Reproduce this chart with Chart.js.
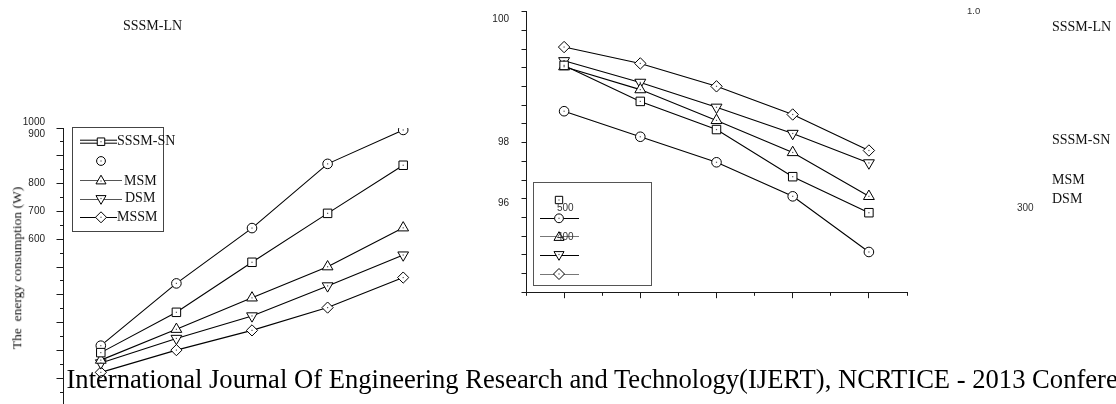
<!DOCTYPE html>
<html>
<head>
<meta charset="utf-8">
<script src="https://cdn.jsdelivr.net/npm/chart.js@4/dist/chart.umd.min.js"></script>
<style>
  html, body { margin: 0; padding: 0; background: #fff; width: 1116px; height: 404px; overflow: hidden; }
  #wrap { position: relative; width: 1116px; height: 404px; overflow: hidden; }
  canvas { position: absolute; left: 0; top: 0; }
  .t { position: absolute; white-space: pre; line-height: 1; color: #111; }
  .serif { font-family: "Liberation Serif", "Times New Roman", serif; }
  .sans { font-family: "Liberation Sans", Arial, sans-serif; color: #333; }
</style>
</head>
<body>
<div id="wrap">
  <canvas id="energy" width="1116" height="450"></canvas>
  <canvas id="ratio" width="1116" height="404"></canvas>

  <div class="t serif" style="left:123px;top:18.9px;font-size:14px">SSSM-LN</div>
  <div class="t sans" style="left:967px;top:6.3px;font-size:9.5px">1.0</div>
  <div class="t serif" style="left:1052px;top:19.6px;font-size:14px">SSSM-LN</div>
  <div class="t serif" style="left:1052px;top:132.9px;font-size:14px">SSSM-SN</div>
  <div class="t serif" style="left:1052px;top:172.9px;font-size:14px">MSM</div>
  <div class="t serif" style="left:1052px;top:191.9px;font-size:14px">DSM</div>
  <div class="t sans" style="left:1017px;top:203.4px;font-size:10px">300</div>
  <div class="t sans" style="left:557px;top:203.4px;font-size:10px">500</div>
  <div class="t sans" style="left:557px;top:232.1px;font-size:10px">400</div>
  <div class="t serif" style="left:16.5px;top:268px;font-size:13.5px;transform:translate(-50%,-50%) rotate(-90deg)">The  energy consumption (W)</div>
  <div class="t serif" style="left:66.5px;top:365.7px;font-size:26.6px;color:#000">International Journal Of Engineering Research and Technology(IJERT), NCRTICE - 2013 Conference Proceedings</div>
</div>

<script>
// x positions shared by both panels
const steps = [1, 2, 3, 4, 5];
const seriesNames = ['SSSM-SN', 'SSSM-LN', 'MSM', 'DSM', 'MSSM'];

// left panel: energy consumption (W)
const energySSSMSN = [192, 337, 517, 693, 866];
const energySSSMLN = [217, 441, 640, 871, 993];
const energyMSM    = [165, 276, 389, 501, 641];
const energyDSM    = [155, 243, 324, 432, 543];
const energyMSSM   = [121, 201, 272, 354, 462];
const energyLabelValues = [600, 700, 800, 1000];
const energyLabelText   = ['600', '700', '800', ['1000', '900']];

// right panel
const ratioSSSMSN = [99.18, 98.63, 98.20, 97.48, 96.93];
const ratioSSSMLN = [98.48, 98.09, 97.70, 97.18, 96.33];
const ratioMSM    = [99.16, 98.81, 98.34, 97.85, 97.18];
const ratioDSM    = [99.25, 98.92, 98.54, 98.14, 97.69];
const ratioMSSM   = [99.46, 99.21, 98.86, 98.43, 97.88];
const ratioLabelValues = [97.142857, 98, 100];
const ratioLabelText   = [['', '96'], '98', ['', '100']];
const ratioLabelLead   = [0.9, 1.2, 1.6];   // line spacing of each label

// right axis: 16 tick marks, 2/7 apart, top at 100
const ratioStep = 2 / 7;
const ratioMax = 100;
const ratioMin = ratioMax - 15 * ratioStep;

const INK = '#000';
const FAMILY = '"Liberation Sans", Arial, sans-serif';
const tickFont = { family: FAMILY, size: 10 };

function align(p) { return Math.round(p - 0.5) + 0.5; }

function mark(ctx, style, rotation, r, x, y) {
  ctx.save();
  ctx.fillStyle = '#fff';
  ctx.strokeStyle = INK;
  ctx.lineWidth = 1;
  Chart.helpers.drawPoint(ctx, { pointStyle: style, rotation: rotation, radius: r, borderWidth: 1 }, x, y);
  ctx.fillStyle = '#555';
  ctx.fillRect(x - 0.6, y - 0.6, 1.2, 1.2);
  ctx.restore();
}

// small dot in the middle of every marker
const centerDots = {
  id: 'centerDots',
  afterDatasetsDraw(chart) {
    const ctx = chart.ctx;
    ctx.save();
    ctx.fillStyle = '#555';
    chart.data.datasets.forEach((ds, i) => {
      chart.getDatasetMeta(i).data.forEach(pt => ctx.fillRect(pt.x - 0.6, pt.y - 0.6, 1.2, 1.2));
    });
    ctx.restore();
  }
};

// major / minor tick marks along the axes
function axisMarks(list) {
  return {
    id: 'axisMarks',
    afterDraw(chart) {
      const ctx = chart.ctx;
      ctx.save();
      ctx.strokeStyle = '#1a1a1a';
      ctx.lineWidth = 1;
      list.forEach(a => {
        const sc = chart.scales[a.id];
        for (let i = 0; i < a.count; i++) {
          const v = a.from + i * a.step;
          const len = a.len(i);
          const p = align(sc.getPixelForValue(v));
          ctx.beginPath();
          if (sc.isHorizontal()) {
            const y0 = align(sc.top);
            ctx.moveTo(p, y0); ctx.lineTo(p, y0 + len);
          } else {
            const x0 = align(sc.right);
            ctx.moveTo(x0, p); ctx.lineTo(x0 - len, p);
          }
          ctx.stroke();
        }
      });
      ctx.restore();
    }
  };
}

// boxed key
function legendBox(cfg) {
  return {
    id: 'legendBox',
    afterDraw(chart) {
      const ctx = chart.ctx;
      ctx.save();
      ctx.lineWidth = 1;
      ctx.strokeStyle = cfg.boxColor;
      const b = cfg.box;
      ctx.strokeRect(b[0], b[1], b[2] - b[0], b[3] - b[1]);
      cfg.entries.forEach(e => {
        (e.lines || []).forEach(l => {
          ctx.strokeStyle = l[3] || INK;
          ctx.beginPath(); ctx.moveTo(l[0], l[2]); ctx.lineTo(l[1], l[2]); ctx.stroke();
        });
        mark(ctx, e.style, e.rot || 0, e.r, e.x, e.y);
        if (e.text) {
          ctx.fillStyle = '#111';
          ctx.font = cfg.font;
          ctx.textBaseline = 'middle';
          ctx.textAlign = 'left';
          ctx.fillText(e.text, e.tx, e.y);
        }
      });
      ctx.restore();
    }
  };
}

function series(label, values, style, r, rot) {
  return {
    label: label,
    data: steps.map((s, i) => ({ x: s, y: values[i] })),
    borderColor: INK,
    borderWidth: 1.1,
    backgroundColor: '#fff',
    pointBackgroundColor: '#fff',
    pointBorderColor: INK,
    pointBorderWidth: 1,
    pointStyle: style,
    pointRotation: rot || 0,
    pointRadius: r,
    tension: 0,
    fill: false
  };
}

// keep the plot box exactly where the axes are placed
function noScalePadding(s) {
  s.paddingTop = 0; s.paddingBottom = 0; s.paddingLeft = 0; s.paddingRight = 0;
}

const common = {
  responsive: false,
  animation: false,
  devicePixelRatio: 1,
  plugins: { legend: { display: false }, tooltip: { enabled: false } }
};

// left panel
new Chart(document.getElementById('energy'), {
  type: 'line',
  data: {
    datasets: [
      series(seriesNames[0], energySSSMSN, 'rect', 6),
      series(seriesNames[1], energySSSMLN, 'circle', 4.8),
      series(seriesNames[2], energyMSM, 'triangle', 6.2),
      series(seriesNames[3], energyDSM, 'triangle', 6.2, 180),
      series(seriesNames[4], energyMSSM, 'rectRot', 5.6)
    ]
  },
  options: Object.assign({}, common, {
    layout: { padding: { left: 0, top: 128, right: 675, bottom: 0 } },
    scales: {
      x: {
        type: 'linear', min: 0.5, max: 5.5,
        grid: { display: false },
        ticks: { display: false },
        border: { color: '#1a1a1a', width: 1 },
        afterFit(s) { s.height = 44; noScalePadding(s); }
      },
      y: {
        type: 'linear', min: 0, max: 1000,
        grid: { display: false },
        border: { color: '#1a1a1a', width: 1 },
        afterBuildTicks(s) { s.ticks = energyLabelValues.map(v => ({ value: v })); },
        ticks: {
          autoSkip: false, padding: 10, color: '#222', font: tickFont,
          callback(v, i) { return energyLabelText[i]; }
        },
        afterFit(s) { s.width = 63; noScalePadding(s); }
      }
    }
  }),
  plugins: [
    centerDots,
    axisMarks([{ id: 'y', from: 0, count: 21, step: 50, len: i => (i % 2 === 0 ? 7 : 3.5) }]),
    legendBox({
      box: [72.5, 127.5, 163.5, 231.5],
      boxColor: '#444',
      font: '14px "Liberation Serif", "Times New Roman", serif',
      entries: [
        { style: 'rect', r: 5.3, x: 101, y: 141.7, lines: [[80, 117, 140.2], [80, 117, 143.2]], text: seriesNames[0], tx: 117 },
        { style: 'circle', r: 4.4, x: 101, y: 161 },
        { style: 'triangle', r: 5.8, x: 101, y: 181, lines: [[80, 122, 180.5, '#555']], text: seriesNames[2], tx: 124 },
        { style: 'triangle', rot: 180, r: 5.8, x: 101, y: 198.5, lines: [[80, 122, 199.5, '#555']], text: seriesNames[3], tx: 125 },
        { style: 'rectRot', r: 5.5, x: 101, y: 217.3, lines: [[80, 117, 217.5]], text: seriesNames[4], tx: 117 }
      ]
    })
  ]
});

// right panel
new Chart(document.getElementById('ratio'), {
  type: 'line',
  data: {
    datasets: [
      series(seriesNames[0], ratioSSSMSN, 'rect', 6),
      series(seriesNames[1], ratioSSSMLN, 'circle', 4.8),
      series(seriesNames[2], ratioMSM, 'triangle', 6.3),
      series(seriesNames[3], ratioDSM, 'triangle', 6.3, 180),
      series(seriesNames[4], ratioMSSM, 'rectRot', 5.7)
    ]
  },
  options: Object.assign({}, common, {
    layout: { padding: { left: 480, top: 11.7, right: 209, bottom: 0 } },
    scales: {
      x: {
        type: 'linear', min: 0.5, max: 5.5,
        grid: { display: false },
        ticks: { display: false },
        border: { color: '#1a1a1a', width: 1 },
        afterFit(s) { s.height = 404 - 292.3; noScalePadding(s); }
      },
      y: {
        type: 'linear', min: ratioMin, max: ratioMax,
        grid: { display: false },
        border: { color: '#1a1a1a', width: 1 },
        afterBuildTicks(s) { s.ticks = ratioLabelValues.map(v => ({ value: v })); },
        ticks: {
          autoSkip: false, padding: 9, color: '#222',
          font: c => ({ family: FAMILY, size: 10, lineHeight: ratioLabelLead[c.index] || 1.2 }),
          callback(v, i) { return ratioLabelText[i]; }
        },
        afterFit(s) { s.width = 46; noScalePadding(s); }
      }
    }
  }),
  plugins: [
    centerDots,
    axisMarks([
      { id: 'y', from: ratioMin, count: 16, step: ratioStep, len: () => 5 },
      { id: 'x', from: 0.5, count: 11, step: 0.5, len: i => (i % 2 === 1 ? 5.7 : 3.3) }
    ]),
    legendBox({
      box: [533.5, 182.5, 651.5, 285.5],
      boxColor: '#555',
      font: '14px "Liberation Serif", "Times New Roman", serif',
      entries: [
        { style: 'rect', r: 5.2, x: 559, y: 200 },
        { style: 'circle', r: 4.4, x: 559, y: 218.3, lines: [[540, 579, 218.5]] },
        { style: 'triangle', r: 5.8, x: 559, y: 237.5, lines: [[540, 579, 236.5, '#777']] },
        { style: 'triangle', rot: 180, r: 5.8, x: 559, y: 254.5, lines: [[540, 579, 255.5]] },
        { style: 'rectRot', r: 5.5, x: 559, y: 274, lines: [[540, 579, 274.5, '#777']] }
      ]
    })
  ]
});
</script>
</body>
</html>
